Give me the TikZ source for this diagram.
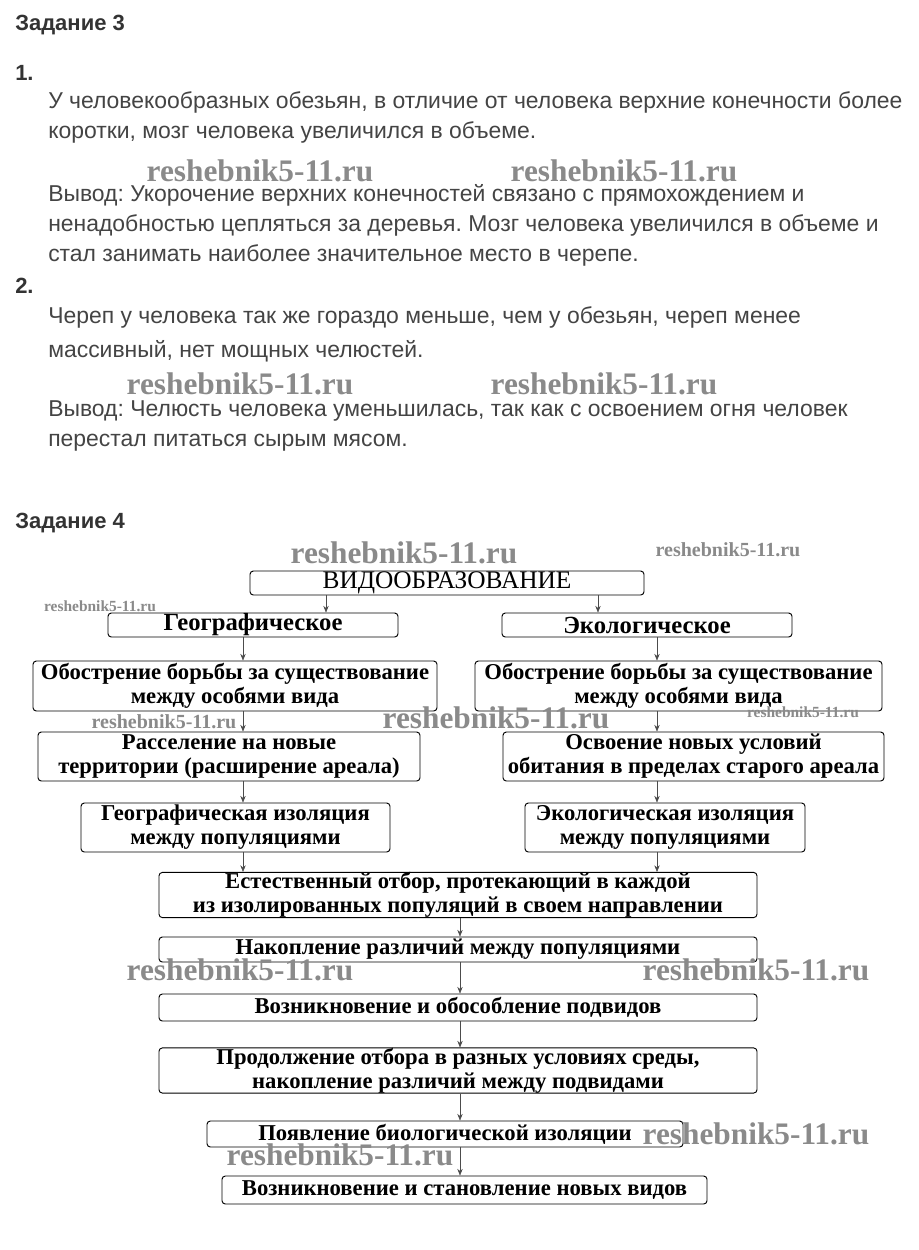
\documentclass[tikz,border=0pt]{standalone}
\usepackage{fontspec}
\setmainfont{Liberation Sans}
\newfontfamily\boxfont{Liberation Serif}
\usetikzlibrary{arrows.meta}
\definecolor{txtgray}{HTML}{444444}
\definecolor{headgray}{HTML}{333333}
\definecolor{wmgray}{HTML}{8A8A8A}
\newcommand\px{0.75pt}
\frenchspacing

\begin{document}
\begin{tikzpicture}[x=0.75pt, y=-0.75pt,
	txt/.style = {anchor=mid west, inner sep=0, text=txtgray, font=\fontsize{17.2}{20}\selectfont},
	head/.style = {anchor=mid west, inner sep=0, text=headgray, font=\fontsize{16.5}{19}\selectfont\bfseries},
	wm/.style = {inner sep=0, text=wmgray, font=\boxfont\fontsize{23.5}{25}\selectfont\bfseries},
	wmsmall/.style = {wm, font=\boxfont\fontsize{15}{17}\selectfont\bfseries},
	wmtiny/.style = {wm, font=\boxfont\fontsize{11.6}{13}\selectfont\bfseries},
	box/.style = {draw, rounded corners=2.5pt, line width=0.7pt, inner sep=0, align=center,
		font=\boxfont\fontsize{17}{18}\selectfont\bfseries},
	arr/.style = {-{Stealth[length=5pt, width=4pt]}, line width=0.4pt, draw=black!70}]
	\useasboundingbox [fill=white] (0,0) rectangle (918,1250);

	% Задание 3
	\node [head] (z3) at (15,27) {Задание 3};
	\node [head] (n1) at (15,77) {1.};
	\node [txt] (t1) at (48,105) {У человекообразных обезьян, в отличие от человека верхние конечности более};
	\node [txt] (t2) at (48,135) {коротки, мозг человека увеличился в объеме.};
	\node [wm] (w1) at (260,171) {reshebnik5-11.ru};
	\node [wm] (w2) at (624,171) {reshebnik5-11.ru};
	\node [txt] (t3) at (48,198) {Вывод: Укорочение верхних конечностей связано с прямохождением и};
	\node [txt] (t4) at (48,228) {ненадобностью цепляться за деревья. Мозг человека увеличился в объеме и};
	\node [txt] (t5) at (48,258) {стал занимать наиболее значительное место в черепе.};
	\node [head] (n2) at (15,290) {2.};
	\node [txt] (t6) at (48,320) {Череп у человека так же гораздо меньше, чем у обезьян, череп менее};
	\node [txt] (t7) at (48,354) {массивный, нет мощных челюстей.};
	\node [wm] (w3) at (240,384) {reshebnik5-11.ru};
	\node [wm] (w4) at (604,384) {reshebnik5-11.ru};
	\node [txt] (t8) at (48,413) {Вывод: Челюсть человека уменьшилась, так как с освоением огня человек};
	\node [txt] (t9) at (48,443) {перестал питаться сырым мясом.};

	% Задание 4
	\node [head] (z4) at (15,525) {Задание 4};
	\node [wm] (w5) at (404,553) {reshebnik5-11.ru};
	\node [wmsmall] (w6) at (728,550) {reshebnik5-11.ru};
	\node [wmtiny] (w7) at (100,606) {reshebnik5-11.ru};

	\node [box, minimum width=394*\px, minimum height=24*\px, font=\boxfont\fontsize{19}{20}\selectfont] (vid) at (447,583) {ВИДООБРАЗОВАНИЕ};
	\node [box, minimum width=290*\px, minimum height=24*\px, font=\boxfont\fontsize{18.5}{19}\selectfont\bfseries] (geo) at (253,625) {Географическое};
	\node [box, minimum width=290*\px, minimum height=24*\px, font=\boxfont\fontsize{18.5}{19}\selectfont\bfseries] (eco) at (647,625) {Экологическое};
	\node [box, minimum width=404*\px, minimum height=50*\px] (obl) at (235,686) {Обострение борьбы за существование\\между особями вида};
	\node [box, minimum width=407*\px, minimum height=50*\px] (obr) at (678.5,686) {Обострение борьбы за существование\\между особями вида};
	\node [box, minimum width=382*\px, minimum height=49*\px] (ras) at (229,756.5) {Расселение на новые\\территории (расширение ареала)};
	\node [box, minimum width=381*\px, minimum height=49*\px] (osv) at (693.5,756.5) {Освоение новых условий\\обитания в пределах старого ареала};
	\node [box, minimum width=309*\px, minimum height=49*\px] (giz) at (235.5,827.5) {Географическая изоляция\\между популяциями};
	\node [box, minimum width=280*\px, minimum height=49*\px] (eiz) at (665,827.5) {Экологическая изоляция\\между популяциями};
	\node [box, minimum width=598*\px, minimum height=44*\px] (est) at (458,895) {Естественный отбор, протекающий в каждой\\из изолированных популяций в своем направлении};
	\node [box, minimum width=598*\px, minimum height=25*\px] (nak) at (458,949.5) {Накопление различий между популяциями};
	\node [box, minimum width=598*\px, minimum height=27*\px] (voz) at (458,1007.5) {Возникновение и обособление подвидов};
	\node [box, minimum width=598*\px, minimum height=43*\px] (pro) at (458,1070.5) {Продолжение отбора в разных условиях среды,\\накопление различий между подвидами};
	\node [box, minimum width=476*\px, minimum height=26*\px] (poy) at (445,1134) {Появление биологической изоляции};
	\node [box, minimum width=485*\px, minimum height=28*\px] (nov) at (464.5,1190) {Возникновение и становление новых видов};

	% arrow columns
	\coordinate (cl) at (243,0);
	\coordinate (cr) at (657,0);
	\coordinate (cm) at (460,0);
	\coordinate (vl) at (326,0);
	\coordinate (vr) at (598,0);
	\draw [arr] (vid.south -| vl) -- (geo.north -| vl);
	\draw [arr] (vid.south -| vr) -- (eco.north -| vr);
	\draw [arr] (geo.south -| cl) -- (obl.north -| cl);
	\draw [arr] (eco.south -| cr) -- (obr.north -| cr);
	\draw [arr] (obl.south -| cl) -- (ras.north -| cl);
	\draw [arr] (obr.south -| cr) -- (osv.north -| cr);
	\draw [arr] (ras.south -| cl) -- (giz.north -| cl);
	\draw [arr] (osv.south -| cr) -- (eiz.north -| cr);
	\draw [arr] (giz.south -| cl) -- (est.north -| cl);
	\draw [arr] (eiz.south -| cr) -- (est.north -| cr);
	\draw [arr] (est.south -| cm) -- (nak.north -| cm);
	\draw [arr] (nak.south -| cm) -- (voz.north -| cm);
	\draw [arr] (voz.south -| cm) -- (pro.north -| cm);
	\draw [arr] (pro.south -| cm) -- (poy.north -| cm);
	\draw [arr] (poy.south -| cm) -- (nov.north -| cm);

	% watermarks over the scheme
	\node [wmsmall] (w8) at (164,722) {reshebnik5-11.ru};
	\node [wm] (w9) at (496,718) {reshebnik5-11.ru};
	\node [wmtiny] (w10) at (803,712) {reshebnik5-11.ru};
	\node [wm] (w11) at (240,970) {reshebnik5-11.ru};
	\node [wm] (w12) at (756,970) {reshebnik5-11.ru};
	\node [wm] (w13) at (756,1134) {reshebnik5-11.ru};
	\node [wm] (w14) at (340,1155) {reshebnik5-11.ru};
\end{tikzpicture}
\end{document}
